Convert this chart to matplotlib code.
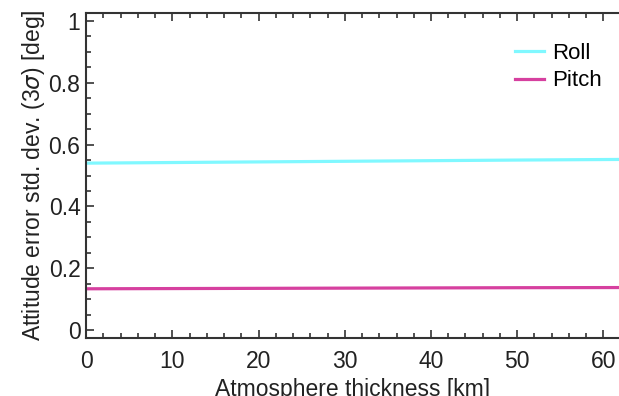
import matplotlib
matplotlib.use('Agg')
import matplotlib.pyplot as plt
from matplotlib.ticker import MultipleLocator

# data
thickness = [0, 10, 20, 30, 40, 50, 62]
roll = [0.540, 0.542, 0.544, 0.546, 0.548, 0.550, 0.552]
pitch = [0.134, 0.1347, 0.1354, 0.1361, 0.1368, 0.1375, 0.138]

plt.rcParams['font.family'] = ['Liberation Sans', 'DejaVu Sans']
plt.rcParams['mathtext.fontset'] = 'dejavusans'

fig = plt.figure(figsize=(6.19, 3.96), dpi=100)
ax = fig.add_axes([0.139, 0.1465, 0.861, 0.8205])

ax.plot(thickness, roll, color='#80f8ff', lw=2.3, label='Roll')
ax.plot(thickness, pitch, color='#d6409f', lw=2.3, label='Pitch')

ax.set_xlim(0, 61.8)
ax.set_ylim(-0.025, 1.025)
ax.xaxis.set_major_locator(MultipleLocator(10))
ax.xaxis.set_minor_locator(MultipleLocator(2))
ax.yaxis.set_major_locator(MultipleLocator(0.2))
ax.yaxis.set_minor_locator(MultipleLocator(0.05))
ax.set_yticks([0, 0.2, 0.4, 0.6, 0.8, 1.0])
ax.set_yticklabels(['0', '0.2', '0.4', '0.6', '0.8', '1'])

ax.tick_params(which='both', direction='in', top=True, right=False, colors='#333333',
               labelcolor='#222222', labelsize=16.5, width=1.2)
ax.tick_params(which='major', length=6)
ax.tick_params(axis='x', which='major', pad=9)
ax.tick_params(axis='y', which='major', pad=4)
ax.tick_params(which='minor', length=3.5)
for side in ['left', 'bottom', 'top']:
    ax.spines[side].set_color('#333333')
    ax.spines[side].set_linewidth(1.5)
ax.spines['right'].set_visible(False)

ax.set_xlabel('Atmosphere thickness [km]', fontsize=16.5, color='#222222', labelpad=3)
ax.set_ylabel(r'Attitude error std. dev. (3$\sigma$) [deg]', fontsize=16.5, color='#222222', labelpad=1)

ax.legend(loc='upper right', frameon=False, fontsize=16, handlelength=1.3,
          handletextpad=0.35, labelspacing=0.3, bbox_to_anchor=(1.005, 0.97))

fig.savefig('out.png', dpi=100)
